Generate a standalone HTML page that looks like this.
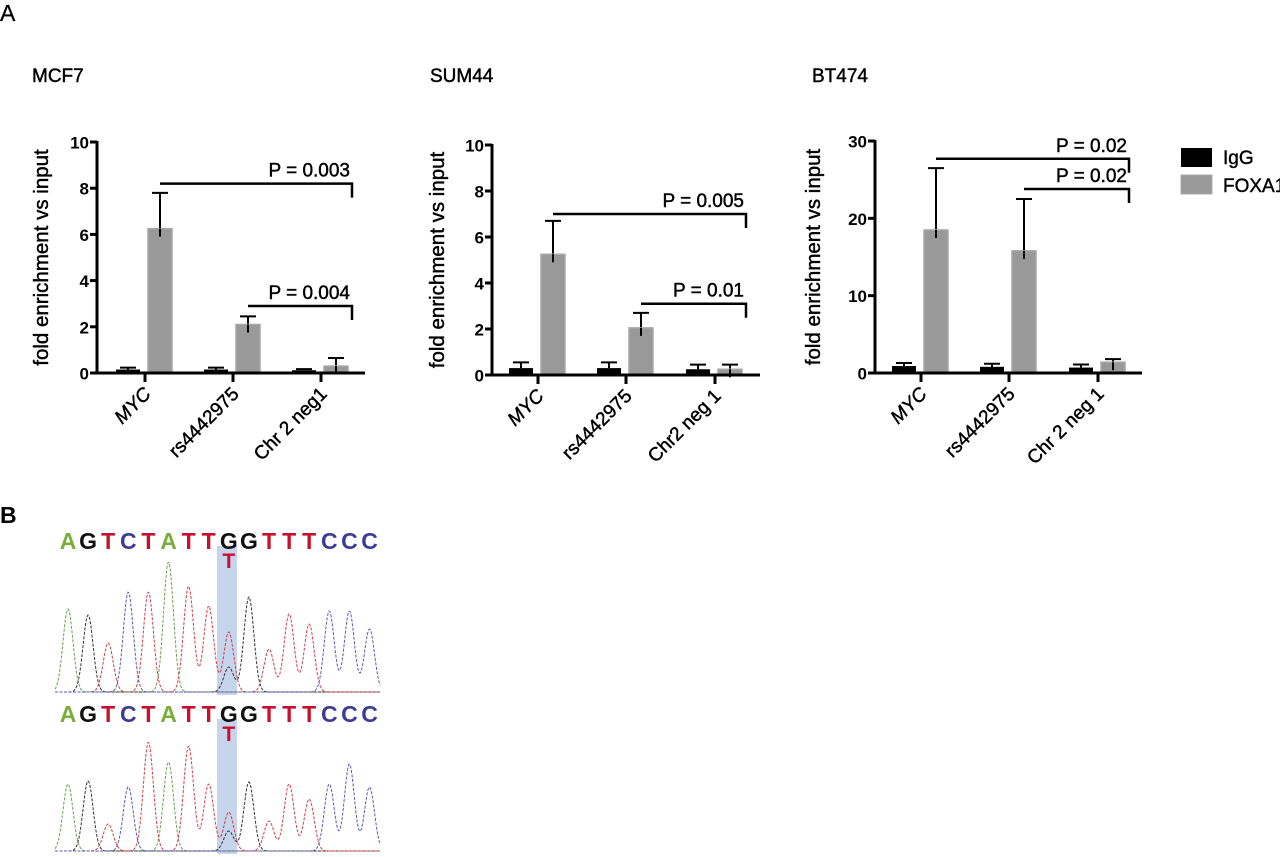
<!DOCTYPE html>
<html><head><meta charset="utf-8">
<style>
html,body{margin:0;padding:0;background:#fff;}
svg{display:block;font-family:"Liberation Sans",Arial,sans-serif;}
svg text{stroke-linejoin:round;}
</style></head>
<body>
<svg id="fig" width="1280" height="857" viewBox="0 0 1280 857" xmlns="http://www.w3.org/2000/svg">
<text x="0" y="21" font-size="23" stroke="#000" stroke-width="0.3">A</text>
<text x="0" y="523" font-size="23" font-weight="bold">B</text>
<g>
<rect x="1181" y="148" width="31" height="19" fill="#000"/>
<text x="1223" y="164" font-size="19" stroke="#000" stroke-width="0.4">IgG</text>
<rect x="1181" y="175" width="31" height="19" fill="#999" stroke="#aaa"/>
<text x="1223" y="192" font-size="19" stroke="#000" stroke-width="0.4">FOXA1</text>
</g>
</svg>
<script>
// ---- chart data ----
const chartTitles = ["MCF7","SUM44","BT474"];
const categoriesA = ["MYC","rs4442975","Chr 2 neg1"];
const categoriesB = ["MYC","rs4442975","Chr2 neg 1"];
const categoriesC = ["MYC","rs4442975","Chr 2 neg 1"];
const yMaxes = [10,10,30];
const yTicksA = [0,2,4,6,8,10];
const yTicksB = [0,2,4,6,8,10];
const yTicksC = [0,10,20,30];
const iggA = [0.15,0.15,0.12];
const iggErrA = [0.08,0.08,0.05];
const foxA = [6.25,2.1,0.3];
const foxErrA = [1.55,0.35,0.35];
const iggB = [0.3,0.3,0.25];
const iggErrB = [0.25,0.25,0.2];
const foxB = [5.25,2.05,0.25];
const foxErrB = [1.45,0.65,0.2];
const iggC = [0.9,0.8,0.7];
const iggErrC = [0.4,0.4,0.4];
const foxC = [18.5,15.8,1.4];
const foxErrC = [8.0,6.7,0.4];
const pLabelsA = ["P = 0.003","P = 0.004"];
const pLabelsB = ["P = 0.005","P = 0.01"];
const pLabelsC = ["P = 0.02","P = 0.02"];
const pFromA = [0,1], pFromB=[0,1], pFromC=[0,1];
const pLevelA = [8.2,2.9], pLevelB=[7.0,3.1], pLevelC=[27.7,23.8];

// sequencing data
const bases = "AGTCTATTGGTTTCCC".split("");
const peakH1 = [83,77,49,100,100,130,106,86,25,95,43,78,68,81,81,63];
const peakH2 = [67,70,27,64,109,89,105,67,20,69,30,67,52,67,87,64];
const altH1 = 60, altH2 = 39;

const NS="http://www.w3.org/2000/svg";
const svg=document.getElementById('fig');
function mk(tag,attrs,parent){const e=document.createElementNS(NS,tag);for(const k in attrs)e.setAttribute(k,attrs[k]);(parent||svg).appendChild(e);return e;}
const TS={stroke:'#000','stroke-width':0.45};

const layouts=[
 {ax:97,top:142,bot:373,xend:365,ticks:[145,233,321],tx:32,yt:36},
 {ax:492,top:145,bot:375,xend:760,ticks:[538,626,715],tx:430,yt:432},
 {ax:875,top:141,bot:373,xend:1142,ticks:[921,1009,1098],tx:812,yt:808}
];
const sets=[
 {cats:categoriesA,ticks:yTicksA,igg:iggA,ie:iggErrA,fox:foxA,fe:foxErrA,pl:pLabelsA,pf:pFromA,pv:pLevelA},
 {cats:categoriesB,ticks:yTicksB,igg:iggB,ie:iggErrB,fox:foxB,fe:foxErrB,pl:pLabelsB,pf:pFromB,pv:pLevelB},
 {cats:categoriesC,ticks:yTicksC,igg:iggC,ie:iggErrC,fox:foxC,fe:foxErrC,pl:pLabelsC,pf:pFromC,pv:pLevelC}
];
sets.forEach((d,ci)=>{
 const L=layouts[ci];
 const y=v=>L.bot-(v/yMaxes[ci])*(L.bot-L.top);
 const g=mk('g',{});
 
 
 const t=mk('text',Object.assign({x:L.tx,y:82,'font-size':19},TS),g);t.textContent=chartTitles[ci];
 
 
 const yt=mk('text',Object.assign({x:0,y:0,'font-size':20.5,'text-anchor':'middle',transform:`translate(${L.yt+12},${(L.top+L.bot)/2}) rotate(-90)`},TS),g);yt.textContent="fold enrichment vs input";
 
 
 d.cats.forEach((c,i)=>{
  const bx1=L.ticks[i]-29, bx2=L.ticks[i]+3;
  const bw=24;
  const ie=mk('path',{d:`M${bx1+bw/2},${y(d.igg[i])} V${y(d.igg[i]+d.ie[i])} M${bx1+bw/2-8},${y(d.igg[i]+d.ie[i])} H${bx1+bw/2+8}`,stroke:'#000','stroke-width':2,fill:'none'},g);
  
  
  const r1=mk('rect',{x:bx1,y:y(d.igg[i]),width:bw,height:L.bot-y(d.igg[i]),fill:'#000'},g);
  
  
  const fe=mk('path',{d:`M${bx2+bw/2},${y(d.fox[i])} V${y(d.fox[i]+d.fe[i])} M${bx2+bw/2-8},${y(d.fox[i]+d.fe[i])} H${bx2+bw/2+8}`,stroke:'#000','stroke-width':2,fill:'none'},g);
  
  
  const r2=mk('rect',{x:bx2,y:y(d.fox[i]),width:bw,height:L.bot-y(d.fox[i]),fill:'#999',stroke:'#a8a8a8','stroke-width':1.5},g);
  
  
  mk('path',{d:`M${bx2+bw/2},${y(d.fox[i])+8} V${y(d.fox[i])}`,stroke:'#000','stroke-width':2},g);
  mk('line',{x1:L.ticks[i],x2:L.ticks[i],y1:L.bot,y2:L.bot+9,stroke:'#000','stroke-width':3},g);
  const xl=mk('text',Object.assign({x:0,y:0,'font-size':19,'text-anchor':'end','font-style':i==0?'italic':'normal',transform:`translate(${L.ticks[i]+7},${L.bot+22}) rotate(-45)`},TS),g);
  xl.textContent=c;
  
  
 });
 mk('line',{x1:L.ax,x2:L.ax,y1:L.top-1,y2:L.bot+1.5,stroke:'#000','stroke-width':3},g);
 mk('line',{x1:L.ax-1.5,x2:L.xend,y1:L.bot,y2:L.bot,stroke:'#000','stroke-width':3},g);
 d.ticks.forEach(v=>{
  mk('line',{x1:L.ax-7,x2:L.ax,y1:y(v),y2:y(v),stroke:'#000','stroke-width':3},g);
  const tl=mk('text',{x:L.ax-8,y:y(v)+6.5,'font-size':17,'font-weight':'bold','text-anchor':'end'},g);tl.textContent=v;
  
  
 });
 const endX=L.ticks[2]+31;
 d.pl.forEach((p,k)=>{
  const startX=L.ticks[d.pf[k]]+15;
  const ly=y(d.pv[k]);
  const br=mk('path',{d:`M${startX},${ly} H${endX} V${ly+14}`,stroke:'#000','stroke-width':2.5,fill:'none'},g);
  
  
  const pt=mk('text',Object.assign({x:endX-2,y:ly-7,'font-size':19,'text-anchor':'end'},TS),g);pt.textContent=p;
  
  
 });
});

// ---- chromatogram ----
const colors={A:'#7aae3c',G:'#111',T:'#c8102e',C:'#3c3c96'};
const traceColors={A:'#6aa050',G:'#333',T:'#d0404a',C:'#5a5ab0'};
function chromo(rowY,baseY,heights,alt,idx){
 const g=mk('g',{});
 
 
 const hl=mk('rect',{x:217,y:rowY-3,width:20,height:baseY-rowY+5,fill:'#c6d4ec'},g);
 
 
 const x0=68,dx=20.1;
 bases.forEach((b,i)=>{
  const t=mk('text',{x:x0+i*dx,y:rowY,'font-size':23,'font-weight':'bold','text-anchor':'middle',fill:colors[b]},g);
  t.textContent=b;
  
  
 });
 const tt=mk('text',{x:x0+8*dx,y:rowY+19,'font-size':21,'font-weight':'bold','text-anchor':'middle',fill:'#c8102e'},g);
 tt.textContent='T';
 
 
 const byBase={A:[],G:[],T:[],C:[]};
 bases.forEach((b,i)=>{byBase[b].push([x0+i*dx,heights[i]]);});
 byBase.T.push([x0+8*dx,alt]);
 Object.keys(byBase).forEach(b=>{
  let dstr='';
  for(let x=55;x<=380;x+=1){
   let v=0;byBase[b].forEach(([px,h])=>{v+=h*Math.exp(-((x-px)**2)/(2*5*5));});
   dstr+=(dstr?'L':'M')+x.toFixed(1)+','+(baseY-v-1).toFixed(1);
  }
  const p=mk('path',{d:dstr,stroke:traceColors[b],'stroke-width':1,fill:'none','stroke-dasharray':'3,1.5'},g);
  
  
 });
}
chromo(549,693,peakH1,altH1,1);
chromo(722,852,peakH2,altH2,2);
</script>
</body></html>
